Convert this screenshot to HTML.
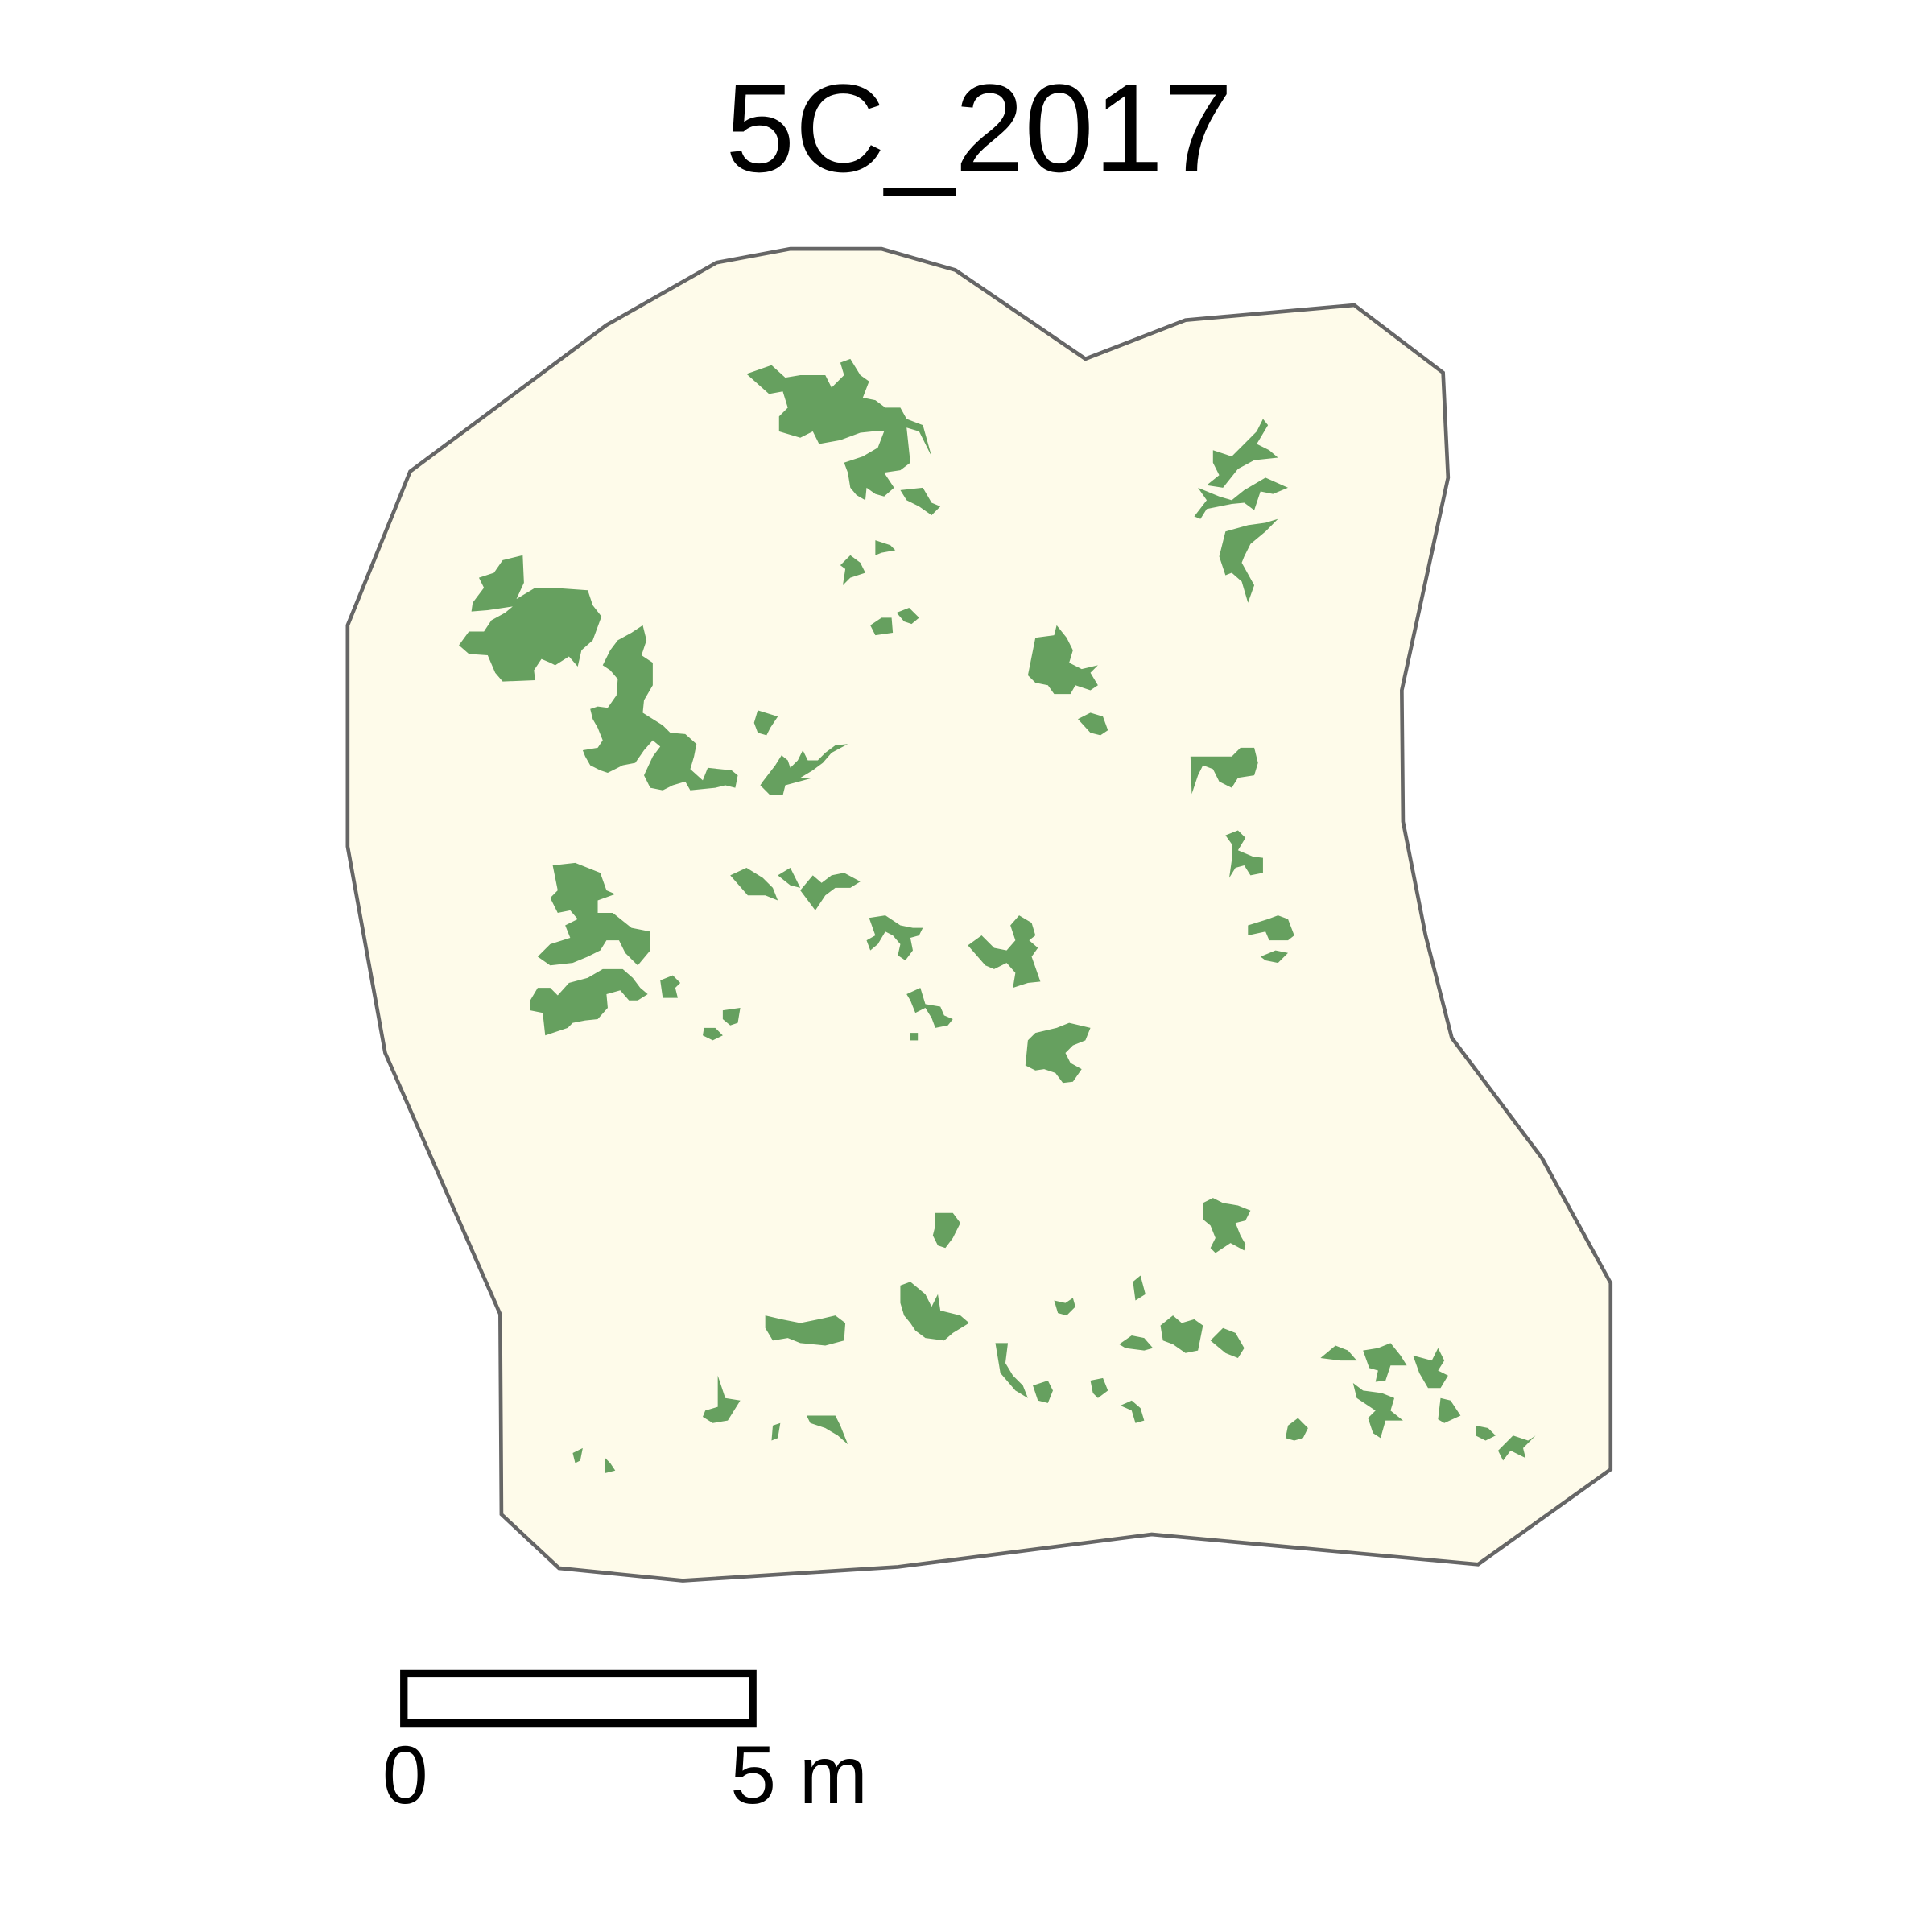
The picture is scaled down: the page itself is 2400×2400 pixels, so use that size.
<!DOCTYPE html>
<html><head><meta charset="utf-8"><style>
html,body{margin:0;padding:0;background:#fff;}
svg{display:block;}
text{font-family:"Liberation Sans",sans-serif;}
</style></head><body>
<svg id="map" width="2400" height="2400" viewBox="0 0 1545 1545" xmlns="http://www.w3.org/2000/svg">
<text x="783" y="137" font-size="100" text-anchor="middle" fill="#000">5C_2017</text>
<polygon fill="#fefbea" stroke="#666666" stroke-width="3"
points="328,377 485,260 573,210 632,199 705,199 764,216 868,287 948,256 1083,244 1154,298 1158,382 1121,552 1122,657 1140,748 1161,830 1233,926 1288,1026 1288,1175 1182,1251 921,1227 718,1253 546,1264 447,1254 401,1211 400,1051 308,842 278,677 278,500"/>
<g id="patches"></g>
<g>
<rect x="323" y="1338" width="279" height="40" fill="#fff" stroke="#000" stroke-width="6"/>
<text x="324" y="1442" font-size="66" text-anchor="middle">0</text>
<text x="584" y="1442" font-size="66">5 m</text>
</g>
</svg>
<script>
const patchesTop = [
"597,299 617,292 628,302 640,300 660,300 665,310 675,300 672,290 680,287 688,300 695,305 690,318 700,320 708,326 720,326 725,335 738,340 745,365 735,345 725,342 728,370 720,376 707,378 715,390 707,397 700,395 693,390 692,400 685,396 680,390 678,378 675,370 690,365 702,358 707,345 698,345 688,346 672,352 655,355 650,345 640,350 623,345 623,333 630,326 626,313 615,315",
"720,392 738,390 745,402 752,405 745,412 735,405 725,400",
"672,452 680,444 688,450 692,458 680,462 674,468 676,455",
"700,432 712,436 716,440 705,442 700,444",
"696,500 705,494 713,494 714,506 700,508",
"717,490 727,486 735,494 729,499 723,497",
"970,360 985,365 995,355 1005,345 1010,335 1014,340 1005,355 1015,360 1022,366 1003,368 990,375 978,390 965,388 975,380 970,370",
"958,390 975,397 985,400 995,392 1012,382 1030,390 1018,395 1008,393 1003,408 995,402 985,403 965,407 960,415 955,413 965,400",
"980,425 998,420 1012,418 1022,415 1012,425 1000,435 995,445 993,450 1003,468 998,482 993,465 985,458 980,460 975,445"
];
const patchesLeft = [
"383,462 395,458 402,448 418,444 419,466 413,479 428,470 442,470 470,472 474,484 481,493 474,512 465,520 462,533 455,525 444,532 440,530 433,527 427,536 428,544 402,545 396,538 390,524 375,523 367,516 375,505 387,505 393,496 404,490 410,485 390,488 377,489 378,482 387,470",
"494,512 505,506 514,500 517,512 513,524 522,530 522,548 515,560 514,570 530,580 536,586 548,587 557,595 555,605 552,615 562,624 566,614 585,616 590,620 588,630 580,628 572,630 552,632 548,625 538,628 530,632 520,630 515,620 522,605 528,597 522,592 515,600 508,610 498,612 486,618 480,616 472,612 468,605 466,600 478,598 482,592 478,582 474,575 472,567 478,565 486,566 493,556 494,543 488,536 482,532 488,520",
"606,568 622,573 616,582 613,588 606,586 603,578",
"610,625 620,612 625,604 630,608 632,614 638,608 642,600 646,608 654,608 660,602 668,596 678,595 665,602 658,610 650,616 640,622 650,622 628,628 626,636 616,636 608,628",
"442,692 460,690 480,698 485,712 492,715 478,720 478,730 490,730 505,742 520,745 520,760 510,772 500,762 495,752 485,752 480,760 470,765 458,770 440,772 430,765 440,755 456,750 452,740 462,735 456,728 446,730 440,718 446,712",
"430,790 440,790 446,796 455,786 470,782 482,775 498,775 506,782 512,790 518,795 510,800 503,800 496,792 485,795 486,806 478,815 468,816 458,818 454,822 436,828 434,810 424,808 424,800",
"528,784 538,780 544,786 540,790 542,798 530,798",
"563,822 572,822 578,828 570,832 562,828",
"578,808 592,806 590,818 584,820 578,815",
"584,700 597,694 610,702 618,710 622,720 612,716 598,716",
"622,700 632,694 640,710 632,708",
"640,712 650,700 657,706 665,700 675,698 688,705 680,710 668,710 660,716 652,728",
"828,510 843,508 845,500 853,510 858,520 855,530 865,535 878,532 872,538 878,548 872,552 860,548 856,555 843,555 838,548 828,546 822,540",
"862,575 872,570 882,573 886,584 880,588 872,586",
"952,605 965,605 985,605 992,598 1003,598 1006,610 1003,620 990,622 985,630 975,625 970,615 962,612 958,620 953,635",
"980,668 990,664 996,670 990,680 1002,685 1010,686 1010,698 1000,700 995,692 988,694 983,702 985,688 985,675",
"998,740 1014,735 1022,732 1030,735 1035,748 1030,752 1015,752 1012,745 998,748",
"1008,765 1020,760 1030,762 1022,770 1012,768"
];
const patchesMid = [
"695,734 708,732 720,740 730,742 738,742 735,748 728,750 730,760 724,768 718,764 720,755 714,748 708,745 702,755 696,760 693,752 700,748",
"774,756 785,748 795,758 805,760 812,752 808,740 815,732 825,738 828,748 823,752 830,758 825,765 832,785 822,786 810,790 812,778 805,770 795,775 788,772",
"725,795 736,790 740,803 752,805 755,812 762,815 758,820 748,822 745,814 740,806 732,810 728,800",
"728,826 734,826 734,832 728,832",
"822,832 828,826 845,822 855,818 872,822 868,832 858,836 852,842 856,850 865,855 858,865 850,866 844,858 835,855 828,856 820,852",
"748,970 762,970 768,978 762,990 756,998 750,996 746,988 748,980",
"962,962 970,958 978,962 990,964 1000,968 996,976 988,978 992,988 996,995 995,1000 984,994 972,1002 968,998 972,990 968,980 962,975",
"720,1028 728,1025 740,1035 745,1045 750,1035 752,1048 768,1052 775,1058 762,1066 755,1072 740,1070 732,1064 728,1058 723,1052 720,1042",
"612,1052 625,1055 640,1058 655,1055 668,1052 676,1058 675,1072 660,1076 640,1074 630,1070 618,1072 612,1062",
"574,1100 580,1118 592,1120 582,1136 570,1138 562,1133 564,1128 574,1125",
"618,1140 624,1138 622,1150 617,1152",
"645,1132 668,1132 672,1140 678,1155 670,1148 660,1142 648,1138",
"458,1162 466,1158 464,1168 460,1170",
"484,1166 488,1170 492,1176 484,1178",
"843,1040 852,1042 858,1038 860,1045 853,1052 846,1050",
"906,1025 912,1020 916,1035 908,1040",
"895,1075 905,1068 915,1070 922,1078 915,1080 900,1078",
"928,1060 938,1052 945,1058 955,1055 962,1060 958,1080 948,1082 938,1075 930,1072",
"968,1072 978,1062 988,1066 995,1078 990,1086 980,1082",
"796,1074 806,1074 804,1090 810,1100 818,1108 822,1118 812,1112 800,1098",
"826,1108 838,1104 842,1112 838,1122 830,1120",
"872,1104 882,1102 886,1112 878,1118 874,1114",
"896,1124 905,1120 912,1126 915,1136 908,1138 905,1128",
"1030,1140 1038,1134 1046,1142 1042,1150 1035,1152 1028,1150",
"1056,1086 1068,1076 1078,1080 1085,1088 1072,1088",
"1090,1080 1102,1078 1112,1074 1120,1084 1125,1092 1112,1092 1108,1104 1100,1105 1102,1096 1095,1094",
"1082,1106 1090,1112 1105,1114 1115,1118 1112,1128 1122,1136 1108,1136 1104,1150 1098,1146 1094,1134 1100,1128 1085,1118",
"1130,1084 1145,1088 1150,1078 1155,1088 1150,1096 1158,1100 1152,1110 1142,1110 1135,1098",
"1152,1118 1160,1120 1168,1132 1155,1138 1150,1135",
"1180,1140 1190,1142 1196,1148 1188,1152 1180,1148",
"1198,1160 1210,1148 1222,1152 1228,1148 1218,1158 1220,1166 1208,1160 1202,1168"
];
const allPatches = patchesTop.concat(patchesLeft, patchesMid);
const g = document.getElementById('patches');
allPatches.forEach(function(pts){
  const p = document.createElementNS('http://www.w3.org/2000/svg','polygon');
  p.setAttribute('points', pts);
  p.setAttribute('fill', '#66a05f');
  
  
  g.appendChild(p);
});
</script>
</body></html>
